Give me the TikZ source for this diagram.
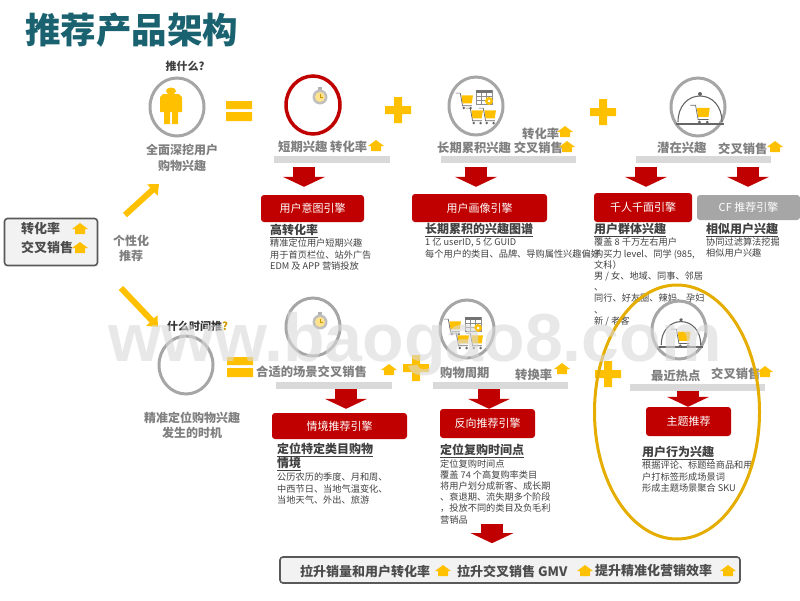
\documentclass[tikz,border=0pt]{standalone}
\usepackage{fontspec}
\setmainfont{Noto Sans CJK SC}
\newfontfamily\markfont{Liberation Sans}
\usetikzlibrary{shapes.geometric,arrows.meta}
\definecolor{deepred}{HTML}{C00000}
\definecolor{gold}{HTML}{FFC000}
\definecolor{ringgray}{HTML}{A6A6A6}
\definecolor{bargray}{HTML}{D9D9D9}
\definecolor{labelgray}{HTML}{7F7F7F}
\definecolor{titleteal}{HTML}{1A6270}
\begin{document}
\begin{tikzpicture}[x=1pt,y=-1pt]
	\tikzset{ring/.style={draw=ringgray, ellipse, line width=3pt, inner sep=0pt, minimum width=54pt, minimum height=58pt},
		engine/.style={fill=deepred, rounded corners=3pt, inner sep=0pt, text=white, font=\fontsize{11}{11}\selectfont},
		goalbox/.style={draw=black!65, fill=black!5, line width=1.6pt, rounded corners=3pt, inner sep=0pt},
		bar/.style={fill=bargray, inner sep=0pt},
		lab/.style={text=labelgray, anchor=west, inner sep=0pt, font=\fontsize{12.3}{12}\bfseries\selectfont},
		head/.style={text=black!75, anchor=north west, inner sep=0pt, align=left, font=\fontsize{12}{14}\bfseries\selectfont},
		info/.style={text=black!75, anchor=north west, inner sep=0pt, align=left, font=\fontsize{9.2}{11.2}\selectfont},
		redarrow/.style={draw=deepred, line width=22pt, -{Triangle[length=10pt,width=42pt]}},
		goldarrow/.style={draw=gold, line width=6pt, -{Triangle[length=9pt,width=15pt]}},
		goldup/.pic={\fill[gold] (-8,0) -- (0,-6) -- (8,0) -- (5,0) -- (5,5) -- (-5,5) -- (-5,0) -- cycle;},
		equalsign/.pic={\fill[gold] (0,0) rectangle (26,8) (0,11) rectangle (26,20);},
		plussign/.pic={\fill[gold] (-13,-4) rectangle (13,4) (-4,-13) rectangle (4,13);},
		person/.pic={\fill[gold] (0,-15) ellipse (5 and 3.5);
			\fill[gold] (-11,-9) -- (-8,-12) -- (8,-12) -- (11,-9) -- (11,6) -- (7,6) -- (7,18) -- (1,18) -- (1,6) -- (-1,6) -- (-1,18) -- (-7,18) -- (-7,6) -- (-11,6) -- cycle;},
		stopwatch/.pic={\fill[black!30] (-2,-10) rectangle (2,-7);
			\fill[black!25] (0,0) circle (7.5);
			\fill[gold!45] (0,0) circle (5);
			\draw[gold!80!black, line width=.6pt] (0,-3.5) -- (0,0) -- (3,0);},
		cart/.pic={\fill[gold] (-4,-4) -- (6,-4) -- (5,3) -- (-3,3) -- cycle;
			\draw[black!60, line width=.7pt] (-9,-6) -- (-5,-6) -- (-3,5) -- (5,5);
			\fill[black!60] (-2,7) circle (1.2) (4,7) circle (1.2);},
		calendar/.pic={\draw[black!45, fill=white, line width=.7pt] (0,-17) rectangle (16,-3);
			\fill[black!55] (0,-17) rectangle (16,-14);
			\draw[black!45, line width=.4pt] (0,-11) -- (16,-11) (0,-7) -- (16,-7) (5,-14) -- (5,-3) (10,-14) -- (10,-3);
			\fill[gold] (13,-6) circle (4);
			\fill[white] (13,-6) circle (1.5);},
		cloche/.pic={\draw[black!60, line width=1.1pt] (-22,0) .. controls (-22,-16) and (-12,-26) .. (0,-26) .. controls (12,-26) and (22,-16) .. (22,0);
			\fill[black!60] (0,-28) circle (2);
			\draw[black!60, line width=2.2pt] (-24,2) -- (24,2);
			\pic[scale=1.3] at (2,-9) {cart};}}
%% Title
	\node[text=titleteal, anchor=west, inner sep=0pt, font=\fontsize{35.5}{35}\bfseries\selectfont] (title) at (25,30) {推荐产品架构};
%% Goal box
	\node[goalbox, minimum width=93pt, minimum height=47pt] (goal) at (51,242) {};
	\node[text=black!70, anchor=west, inner sep=0pt, font=\fontsize{13}{13}\bfseries\selectfont] (goal1) at (21,229) {转化率};
	\node[text=black!70, anchor=west, inner sep=0pt, font=\fontsize{13}{13}\bfseries\selectfont] (goal2) at (21,247) {交叉销售};
	\node[lab, anchor=center, align=center, font=\fontsize{12}{15}\bfseries\selectfont] (perso) at (131,248) {个性化\\推荐};
	\coordinate (up1) at (125,215);
	\coordinate (up2) at (159,184);
	\coordinate (down1) at (121,288);
	\coordinate (down2) at (158,327);
	\draw[goldarrow] (up1) -- (up2);
	\draw[goldarrow] (down1) -- (down2);
%% Upper row
	\node[text=black!75, inner sep=0pt, font=\fontsize{11}{11}\bfseries\selectfont] (what) at (185,66) {推什么?};
	\node[ring] (ringwhat) at (177,107) {};
	\pic at (171,106) {person};
	\node[lab, anchor=center, align=center, font=\fontsize{12}{16}\bfseries\selectfont] (whatlab) at (182,158) {全面深挖用户\\购物兴趣};
	\pic at (226,101) {equalsign};
	\node[ring, draw=deepred, line width=3.5pt] (ring1) at (313,105) {};
	\pic at (320,97) {stopwatch};
	\pic at (398,110) {plussign};
	\node[ring] (ring2) at (476,106) {};
	\pic[scale=1.15] at (466,100) {cart};
	\pic[scale=1.15] at (476,115) {cart};
	\pic[scale=1.15] at (489,115) {cart};
	\pic at (476,107) {calendar};
	\pic at (603,112) {plussign};
	\node[ring] (ring3) at (698,107) {};
	\pic at (700,122) {cloche};
	\node[lab] (lab1) at (278,147) {短期兴趣 转化率};
	\node[lab] (lab2a) at (522,134) {转化率};
	\node[lab] (lab2b) at (437,148) {长期累积兴趣 交叉销售};
	\node[lab] (lab3a) at (657,148) {潜在兴趣};
	\node[lab] (lab3b) at (718,149) {交叉销售};
	\node[bar, minimum width=116pt, minimum height=7pt] (bar1) at (332,159.5) {};
	\node[bar, minimum width=135pt, minimum height=7pt] (bar2) at (508.5,159.5) {};
	\node[bar, minimum width=135pt, minimum height=7pt] (bar3) at (703.5,159.5) {};
	\node[engine, minimum width=103pt, minimum height=27pt] (eng1) at (312.5,208.5) {用户意图引擎};
	\node[engine, minimum width=135pt, minimum height=28pt] (eng2) at (479.5,208) {用户画像引擎};
	\node[engine, minimum width=98pt, minimum height=29pt] (eng3) at (643,207.5) {千人千面引擎};
	\node[engine, fill=ringgray, minimum width=103pt, minimum height=25pt] (eng4) at (748.5,207.5) {CF 推荐引擎};
	\draw[redarrow, shorten <=4pt, shorten >=8pt] (bar1.south -| 304,0) -- (eng1.north -| 304,0);
	\draw[redarrow, shorten <=4pt, shorten >=7pt] (bar2.south -| 476,0) -- (eng2.north -| 476,0);
	\draw[redarrow, shorten <=4pt, shorten >=6pt] (bar3.south -| 646,0) -- (eng3.north -| 646,0);
	\draw[redarrow, shorten <=4pt, shorten >=8pt] (bar3.south -| 748,0) -- (eng4.north -| 748,0);
	\node[head] (head1) at (270,224) {\underline{高转化率}};
	\node[info] (info1) at (270,239) {精准定位用户短期兴趣\\用于首页栏位、站外广告\\EDM 及 APP 营销投放};
	\node[head] (head2) at (425,223) {\underline{长期累积的兴趣图谱}};
	\node[info] (info2) at (425,238) {1 亿 userID, 5 亿 GUID\\每个用户的类目、品牌、导购属性兴趣偏好};
	\node[head] (head3) at (594,223) {\underline{用户群体兴趣}};
	\node[info] (info3) at (594,238) {覆盖 8 千万左右用户\\购买力 level、同学 (985,\\文科）\\男 / 女、地域、同事、邻居\\、\\同行、好友圈、辣妈、孕妇\\、\\新 / 老客};
	\node[head] (head4) at (706,223) {\underline{相似用户兴趣}};
	\node[info] (info4) at (706,237) {协同过滤算法挖掘\\相似用户兴趣};
%% Lower row
	\node[text=black!80, anchor=west, inner sep=0pt, font=\fontsize{11}{11}\bfseries\selectfont] (when) at (167,326) {什么时间推\textcolor{gold!80!black}{?}};
	\node[ring] (ringwhen) at (186,365) {};
	\node[lab, anchor=center, align=center, font=\fontsize{12}{15}\bfseries\selectfont] (whenlab) at (192,425) {精准定位购物兴趣\\发生的时机};
	\pic at (227,357) {equalsign};
	\node[ring] (ring5) at (313,327) {};
	\pic at (320,322) {stopwatch};
	\pic at (416,368) {plussign};
	\node[ring] (ring6) at (467,329) {};
	\pic[scale=1.15] at (454,326) {cart};
	\pic[scale=1.15] at (462,340) {cart};
	\pic[scale=1.15] at (476,340) {cart};
	\pic at (465,334) {calendar};
	\pic at (608,374) {plussign};
	\node[ring] (ring7) at (679,330) {};
	\pic[scale=.9] at (681,345) {cloche};
	\node[lab] (lab5) at (256,372) {合适的场景交叉销售};
	\node[lab] (lab6a) at (440,373) {购物周期};
	\node[lab] (lab6b) at (515,375) {转换率};
	\node[lab] (lab7a) at (651,376) {最近热点};
	\node[lab] (lab7b) at (711,374) {交叉销售};
	\node[bar, minimum width=116pt, minimum height=7pt] (bar5) at (334,385.5) {};
	\node[bar, minimum width=135pt, minimum height=7pt] (bar6) at (500.5,385.5) {};
	\node[bar, minimum width=135pt, minimum height=7pt] (bar7) at (697.5,387.5) {};
	\node[engine, minimum width=135pt, minimum height=26pt] (eng5) at (339.5,426) {情境推荐引擎};
	\node[engine, minimum width=95pt, minimum height=29pt] (eng6) at (487.5,423.5) {反向推荐引擎};
	\node[engine, minimum width=85pt, minimum height=29pt] (eng7) at (688.5,421.5) {主题推荐};
	\draw[redarrow, shorten >=4pt] (bar5.south -| 346,0) -- (eng5.north -| 346,0);
	\draw[redarrow] (bar6.south -| 489,0) -- (eng6.north -| 489,0);
	\draw[redarrow] (bar7.south -| 688,0) -- (eng7.north -| 688,0);
	\node[head] (head5) at (277,443) {\underline{定位特定类目购物}\\\underline{情境}};
	\node[info] (info5) at (277,473) {公历农历的季度、月和周、\\中西节日、当地气温变化、\\当地天气、外出、旅游};
	\node[head] (head6) at (440,444) {\underline{定位复购时间点}};
	\node[info] (info6) at (440,459) {定位复购时间点\\覆盖 74 个高复购率类目\\将用户划分成新客、成长期\\、衰退期、流失期多个阶段\\，投放不同的类目及负毛利\\营销品};
	\node[head] (head7) at (642,446) {\underline{用户行为兴趣}};
	\node[info] (info7) at (642,461) {根据评论、标题给商品和用\\户打标签形成场景词\\形成主题场景聚合 SKU};
	\node[draw=gold!90!black, ellipse, line width=3pt, inner sep=0pt, minimum width=165pt, minimum height=254pt] (hotring) at (677,412) {};
%% Bottom box
	\node[goalbox, minimum width=460pt, minimum height=26pt] (total) at (510,570) {};
	\node[anchor=west, text=black!70, inner sep=0pt, font=\fontsize{13}{13}\bfseries\selectfont] (total1) at (300,571) {拉升销量和用户转化率};
	\node[anchor=west, text=black!70, inner sep=0pt, font=\fontsize{13}{13}\bfseries\selectfont] (total2) at (457,571) {拉升交叉销售 GMV};
	\node[anchor=west, text=black!70, inner sep=0pt, font=\fontsize{13}{13}\bfseries\selectfont] (total3) at (595,571) {提升精准化营销效率};
	\coordinate (tail) at (492,524);
	\draw[redarrow, shorten >=13pt] (tail) -- (total.north -| tail);
%% Up icons
	\foreach \ux/\uy in {80/229, 80/248, 376/146, 565/132, 567/147, 775/147, 389/370, 562/369, 765/372, 443/571, 585/571, 728/571}
		\pic at (\ux,\uy) {goldup};
%% Watermark
	\node[anchor=base west, inner sep=0pt, text=bargray, text opacity=.6, font=\fontsize{68}{68}\markfont\bfseries\selectfont] (mark) at (108,361) {www.baogao8.com};
	\useasboundingbox (0,0) rectangle (800,600);
\end{tikzpicture}
\end{document}
